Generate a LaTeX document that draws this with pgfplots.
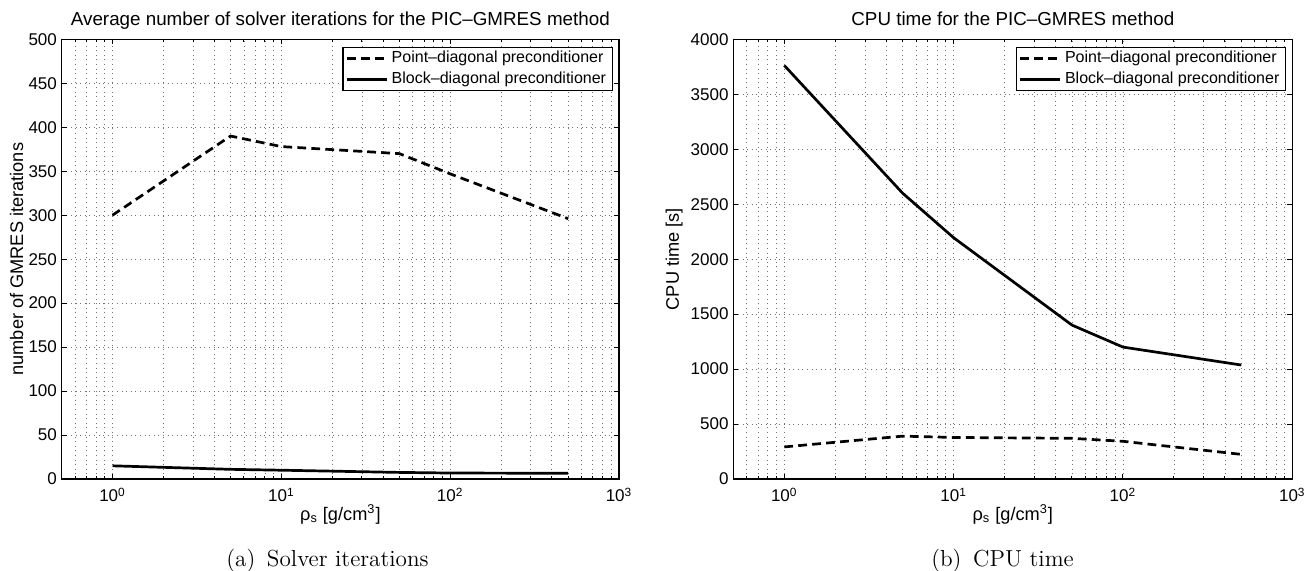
\documentclass[border=0pt]{standalone}
\usepackage{fontspec}
\usepackage{pgfplots}
\pgfplotsset{compat=1.18}
\newfontfamily\hv{Liberation Sans}

\pgfplotstableread{
x y
1 300
5 390
10 378
50 370
100 347
500 296
}\itpoint
\pgfplotstableread{
x y
1 15
5 11
10 10
50 7.5
100 6.8
500 6.5
}\itblock
\pgfplotstableread{
x y
1 292
5 390
10 378
50 370
100 343
500 224
}\cpupoint
\pgfplotstableread{
x y
1 3762
5 2600
10 2195
50 1400
100 1200
500 1037
}\cpublock

\pgfplotsset{
  matstyle/.style={
    scale only axis,
    height=219.85pt,
    xmin=0.5, xmax=1000, ymin=0,
    xtick={1,10,100,1000},
    xticklabels={10\textsuperscript{0},10\textsuperscript{1},10\textsuperscript{2},10\textsuperscript{3}},
    minor xtick={0.6,0.7,0.8,0.9,2,3,4,5,6,7,8,9,20,30,40,50,60,70,80,90,200,300,400,500,600,700,800,900},
    grid=both,
    major grid style={black!55, line width=0.4pt, dash pattern=on 0.5pt off 1.8pt},
    minor grid style={black!55, line width=0.4pt, dash pattern=on 0.5pt off 1.8pt},
    tick align=inside,
    major tick length=2.5pt, minor tick length=1.5pt,
    every tick/.style={black, line width=0.5pt},
    axis line style={line width=0.7pt},
    tick label style={font=\fontsize{8.5}{10}\selectfont\hv},
    /pgf/number format/assume math mode=true,
    /pgf/number format/1000 sep={},
    xticklabel style={anchor=base, yshift=-11.35pt},
    yticklabel style={anchor=east, inner xsep=0pt, xshift=-2.2pt},
    title style={font=\fontsize{9.4}{11}\selectfont\hv, at={(0.5,1)}, anchor=base, yshift=0.65pt},
    label style={font=\fontsize{9.1}{11}\selectfont\hv},
    xlabel style={at={(axis description cs:0.5,0)}, anchor=base, yshift=-20.85pt},
    xlabel={ρ\textsubscript{s} [g/cm\textsuperscript{3}]},
    legend style={at={(rel axis cs:0.9887,0.9836)}, anchor=north east,
      draw=black, line width=0.6pt, fill=white,
      font=\fontsize{8}{9.4}\selectfont\hv,
      inner xsep=1.2pt, inner ysep=0.3pt,
      nodes={inner ysep=1.6pt, inner xsep=1.8pt}},
    legend cell align=left,
    legend image code/.code={\draw[##1] (0pt,0pt) -- (20pt,0pt);},
    pointline/.style={black, line width=1.35pt, dash pattern=on 4.4pt off 2.6pt},
    blockline/.style={black, line width=1.35pt},
  }
}

\begin{document}
\begin{tikzpicture}
\path[use as bounding box] (0,0) rectangle (657.5pt,-285.5pt);

\begin{semilogxaxis}[matstyle,
  at={(30.85pt,-239.5pt)}, anchor=south west,
  width=278.65pt,
  ymax=500, ytick distance=50,
  title={Average number of solver iterations for the PIC–GMRES method},
  ylabel={number of GMRES iterations},
  ylabel style={at={(axis description cs:-0.081,0.5)}, anchor=center, rotate=0},
]
\addplot[pointline] table[x=x,y=y] {\itpoint};
\addlegendentry{Point–diagonal preconditioner}
\addplot[blockline] table[x=x,y=y] {\itblock};
\addlegendentry{Block–diagonal preconditioner}
\end{semilogxaxis}

\begin{semilogxaxis}[matstyle,
  at={(366.65pt,-239.5pt)}, anchor=south west,
  width=279.5pt,
  ymax=4000, ytick distance=500,
  title={CPU time for the PIC–GMRES method},
  ylabel={CPU time [s]},
  ylabel style={at={(axis description cs:-0.106,0.5)}, anchor=center, rotate=0},
]
\addplot[pointline] table[x=x,y=y] {\cpupoint};
\addlegendentry{Point–diagonal preconditioner}
\addplot[blockline] table[x=x,y=y] {\cpublock};
\addlegendentry{Block–diagonal preconditioner}
\end{semilogxaxis}

\node[anchor=base, font=\fontsize{11.6}{13}\selectfont] at (163.75pt,-283.35pt) {(a)\hspace{0.5em}Solver iterations};
\node[anchor=base, font=\fontsize{11.6}{13}\selectfont] at (501.25pt,-283.35pt) {(b)\hspace{0.5em}CPU time};
\end{tikzpicture}
\end{document}
